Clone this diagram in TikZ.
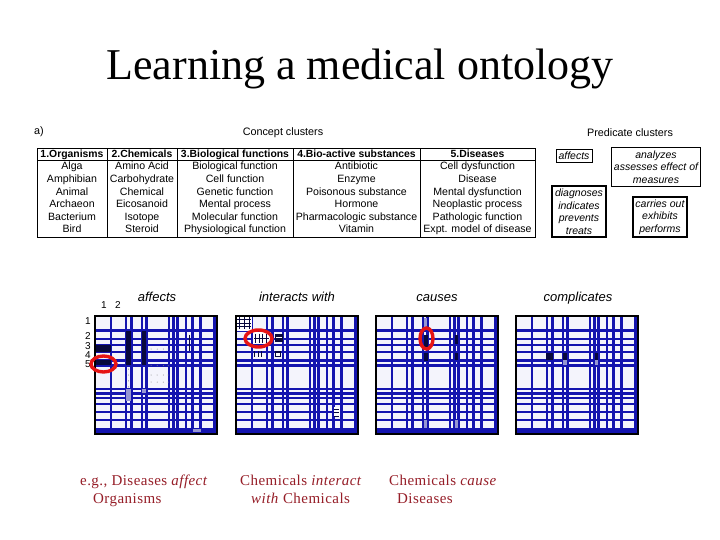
\documentclass[tikz,border=0pt]{standalone}
\usepackage{fontspec}
\setmainfont{Liberation Serif}
\newfontfamily\arialf{Liberation Sans}
\definecolor{gridblue}{RGB}{20,20,175}
\definecolor{cellbg}{RGB}{244,244,252}
\definecolor{darkcell}{RGB}{8,8,60}
\definecolor{lightcell}{RGB}{150,150,210}
\definecolor{capred}{RGB}{150,30,40}
\definecolor{ringred}{RGB}{230,20,20}
\tikzset{
  tcell/.style={font=\arialf\fontsize{10.6}{12}\selectfont, inner sep=0pt, text height=9pt, text depth=2pt, anchor=center},
  thead/.style={font=\arialf\bfseries\fontsize{10.4}{12}\selectfont, inner sep=0pt, text height=9pt, text depth=2pt, anchor=center},
  slabel/.style={font=\arialf\fontsize{10.8}{12}\selectfont, inner sep=0pt},
  pbox/.style={draw, line width=0.8pt, font=\arialf\itshape\fontsize{10.5}{12.5}\selectfont, align=center, inner sep=1pt},
  mtitle/.style={font=\arialf\itshape\fontsize{13}{15}\selectfont, inner sep=0pt, anchor=base},
  axlab/.style={font=\arialf\fontsize{10}{12}\selectfont, inner sep=0pt},
  capt/.style={font=\fontsize{15}{18}\selectfont\addfontfeature{LetterSpace=3}, text=capred, inner sep=0pt, anchor=base west},
  ring/.style={draw=ringred, line width=3.4pt},
  dk/.style={fill=darkcell},
  lt/.style={fill=lightcell}
}
\newcommand\mymat[3]{%
\begin{scope}[shift={(#1,#2)}, x=122pt, y=-118pt]
  \fill[cellbg] (0,0) rectangle (1,1);
  \foreach \f/\w in {0.13/2.3, 0.255/2.3, 0.30/2.8, 0.385/2.3, 0.42/3.0, 0.607/2.3, 0.645/3.0, 0.675/2.3, 0.745/2.3, 0.80/2.3, 0.865/2.3, 0.98/3.0}
    \draw[gridblue, line width=\w pt] (\f,0) -- (\f,1);
  \foreach \f/\w in {0.127/3.0, 0.193/2.1, 0.249/2.1, 0.306/2.1, 0.377/3.0, 0.419/2.3, 0.618/2.1, 0.654/3.0, 0.694/2.1, 0.745/2.1, 0.816/2.1, 0.881/2.1, 0.958/3.0, 0.985/2.1}
    \draw[gridblue, line width=\w pt] (0,\f) -- (1,\f);
  #3
  \draw[black, line width=2.2pt] (0,0) rectangle (1,1);
\end{scope}}
\begin{document}
\begin{tikzpicture}[x=1pt,y=-1pt]
\useasboundingbox (0,0) rectangle (720,540);
\fill[white] (0,0) rectangle (720,540);

% title
\node[font=\fontsize{44}{50}\selectfont, inner sep=0pt, anchor=base] (title) at (360,80) {Learning a medical ontology};

% section labels
\node[slabel, anchor=west] (alab) at (34,132) {a)};
\node[slabel] (cc) at (283,133) {Concept clusters};
\node[slabel] (pc) at (630,133) {Predicate clusters};

% concept table
\draw[line width=1pt] (37,149) rectangle (535,237);
\draw[line width=0.8pt] (37,160) -- (535,160);
\foreach \xx in {107,177,293,420} \draw[line width=0.8pt] (\xx,149) -- (\xx,237);

\node[thead] (h1) at (72,154.5) {1.Organisms};
\node[thead] (h2) at (142,154.5) {2.Chemicals};
\node[thead] (h3) at (235,154.5) {3.Biological functions};
\node[thead] (h4) at (356.5,154.5) {4.Bio-active substances};
\node[thead] (h5) at (477.5,154.5) {5.Diseases};

\node[tcell] (a1) at (72,166.5) {Alga};
\node[tcell] (a2) at (72,179.1) {Amphibian};
\node[tcell] (a3) at (72,191.7) {Animal};
\node[tcell] (a4) at (72,204.3) {Archaeon};
\node[tcell] (a5) at (72,216.9) {Bacterium};
\node[tcell] (a6) at (72,229.5) {Bird};

\node[tcell] (b1) at (142,166.5) {Amino Acid};
\node[tcell] (b2) at (142,179.1) {Carbohydrate};
\node[tcell] (b3) at (142,191.7) {Chemical};
\node[tcell] (b4) at (142,204.3) {Eicosanoid};
\node[tcell] (b5) at (142,216.9) {Isotope};
\node[tcell] (b6) at (142,229.5) {Steroid};

\node[tcell] (c1) at (235,166.5) {Biological function};
\node[tcell] (c2) at (235,179.1) {Cell function};
\node[tcell] (c3) at (235,191.7) {Genetic function};
\node[tcell] (c4) at (235,204.3) {Mental process};
\node[tcell] (c5) at (235,216.9) {Molecular function};
\node[tcell] (c6) at (235,229.5) {Physiological function};

\node[tcell] (d1) at (356.5,166.5) {Antibiotic};
\node[tcell] (d2) at (356.5,179.1) {Enzyme};
\node[tcell] (d3) at (356.5,191.7) {Poisonous substance};
\node[tcell] (d4) at (356.5,204.3) {Hormone};
\node[tcell] (d5) at (356.5,216.9) {Pharmacologic substance};
\node[tcell] (d6) at (356.5,229.5) {Vitamin};

\node[tcell] (e1) at (477.5,166.5) {Cell dysfunction};
\node[tcell] (e2) at (477.5,179.1) {Disease};
\node[tcell] (e3) at (477.5,191.7) {Mental dysfunction};
\node[tcell] (e4) at (477.5,204.3) {Neoplastic process};
\node[tcell] (e5) at (477.5,216.9) {Pathologic function};
\node[tcell] (e6) at (477.5,229.5) {Expt. model of disease};

% predicate clusters
\node[pbox, minimum width=36pt, minimum height=13pt] (p1) at (574,156) {affects};
\node[pbox, minimum width=89pt, minimum height=39pt] (p2) at (656,167) {analyzes\\assesses effect of\\measures};
\node[pbox, minimum width=54pt, minimum height=51pt, line width=1.2pt] (p3) at (579,211.5) {diagnoses\\indicates\\prevents\\treats};
\node[pbox, minimum width=54pt, minimum height=40pt, line width=1.2pt] (p4) at (660,217) {carries out\\exhibits\\performs};

% matrix titles
\node[mtitle] (t1) at (157,301) {affects};
\node[mtitle] (t2) at (297,301) {interacts with};
\node[mtitle] (t3) at (437,301) {causes};
\node[mtitle] (t4) at (578,301) {complicates};

% axis labels
\node[axlab] (x1) at (104,305) {1};
\node[axlab] (x2) at (118,305) {2};
\node[axlab] (y1) at (88,321) {1};
\node[axlab] (y2) at (88,336) {2};
\node[axlab] (y3) at (88,346) {3};
\node[axlab] (y4) at (88,355) {4};
\node[axlab] (y5) at (88,364) {5};

% matrices
\mymat{95}{316}{%
  \fill[dk] (0,0.249) rectangle (0.13,0.306);
  \fill[dk] (0,0.377) rectangle (0.13,0.419);
  \fill[dk] (0.258,0.127) rectangle (0.298,0.419);
  \fill[dk] (0.388,0.127) rectangle (0.418,0.419);
  \fill[lt] (0.258,0.618) rectangle (0.298,0.72);
  \fill[lt] (0.388,0.618) rectangle (0.418,0.654);
  \fill[lt] (0.80,0.958) rectangle (0.865,0.985);
  \draw[darkcell, line width=0.8pt] (0.775,0.16) -- (0.775,0.30);
  \foreach \px in {0.46,0.51,0.56,0.60} \foreach \py in {0.28,0.42,0.50,0.56}
    \fill[gray] (\px,\py) circle (0.5pt);
  \foreach \py in {0.45,0.50,0.55,0.60} \fill[gray] (0.275,\py) circle (0.5pt);
}
\mymat{236}{316}{%
  \fill[white] (0,0) rectangle (0.13,0.127);
  \foreach \py in {0.03,0.06,0.09} \draw[darkcell, line width=1pt] (0.01,\py) -- (0.12,\py);
  \foreach \px in {0.03,0.07,0.11} \draw[darkcell, line width=0.6pt] (\px,0.01) -- (\px,0.11);
  \fill[white] (0.14,0.135) rectangle (0.29,0.24);
  \foreach \px in {0.16,0.19,0.22,0.25} \draw[darkcell, line width=1pt] (\px,0.15) -- (\px,0.23);
  \draw[darkcell, line width=1pt] (0.15,0.19) -- (0.27,0.19);
  \fill[darkcell] (0.32,0.153) rectangle (0.385,0.22);
  \draw[white, line width=1pt] (0.33,0.185) -- (0.375,0.185);
  \foreach \px in {0.15,0.18,0.21} \draw[darkcell, line width=0.8pt] (\px,0.30) -- (\px,0.35);
  \fill[darkcell] (0.32,0.30) rectangle (0.37,0.35);
  \fill[white] (0.33,0.315) rectangle (0.36,0.335);
  \fill[white] (0.80,0.77) rectangle (0.85,0.86);
  \foreach \py in {0.79,0.82,0.85} \draw[darkcell, line width=1pt] (0.805,\py) -- (0.845,\py);
}
\mymat{376}{316}{%
  \fill[dk] (0.39,0.16) rectangle (0.43,0.29);
  \fill[dk] (0.39,0.31) rectangle (0.43,0.38);
  \fill[lt] (0.39,0.02) rectangle (0.418,0.11);
  \fill[lt] (0.39,0.88) rectangle (0.418,0.95);
  \fill[dk] (0.648,0.16) rectangle (0.672,0.24);
  \fill[dk] (0.648,0.31) rectangle (0.672,0.37);
  \fill[lt] (0.648,0.88) rectangle (0.672,0.95);
}
\mymat{516}{316}{%
  \fill[dk] (0.245,0.31) rectangle (0.30,0.37);
  \fill[dk] (0.388,0.31) rectangle (0.42,0.37);
  \fill[lt] (0.388,0.37) rectangle (0.42,0.419);
  \fill[dk] (0.648,0.31) rectangle (0.672,0.37);
  \fill[lt] (0.648,0.37) rectangle (0.672,0.419);
}

% red rings
\draw[ring] (103.5,364) ellipse [x radius=12.5, y radius=8];
\draw[ring] (258.5,338.5) ellipse [x radius=13.5, y radius=8.5];
\draw[ring] (426.5,338.5) ellipse [x radius=6.5, y radius=10.5];

% captions
\node[capt] (cap1a) at (80,485) {e.g., Diseases \textit{affect}};
\node[capt] (cap1b) at (93,503) {Organisms};
\node[capt] (cap2a) at (240,485) {Chemicals \textit{interact}};
\node[capt] (cap2b) at (251,503) {\textit{with} Chemicals};
\node[capt] (cap3a) at (389,485) {Chemicals \textit{cause}};
\node[capt] (cap3b) at (397,503) {Diseases};
\end{tikzpicture}
\end{document}
